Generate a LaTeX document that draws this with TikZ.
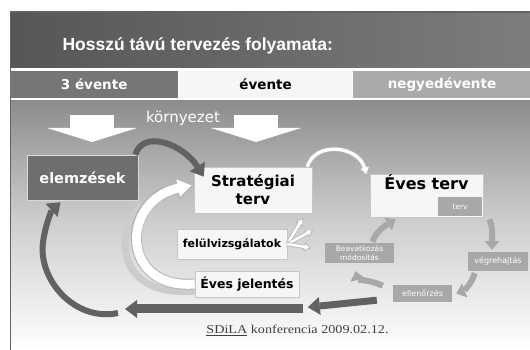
\documentclass[tikz,border=0pt]{standalone}
\usepackage{fontspec}
\usepackage{tikz}
\usetikzlibrary{arrows.meta,positioning}
\newfontfamily\boxfont{DejaVu Sans}
\newfontfamily\titlefont{Liberation Sans}
\newfontfamily\footfont[FakeStretch=1.18]{Liberation Serif}

\definecolor{banddark}{RGB}{86,86,86}
\definecolor{bandlight}{RGB}{125,125,125}
\definecolor{tabdark}{RGB}{118,118,118}
\definecolor{tabmid}{RGB}{170,170,170}
\definecolor{tablight}{RGB}{246,246,246}
\definecolor{boxdark}{RGB}{110,110,110}
\definecolor{arrowdark}{RGB}{98,98,98}
\definecolor{cyclegray}{RGB}{168,168,168}
\definecolor{bgtop}{RGB}{140,140,140}
\definecolor{bgmid}{RGB}{205,205,205}

\begin{document}
\begin{tikzpicture}[x=1pt, y=1pt,
  tab/.style={minimum height=27pt, inner sep=0pt, font=\boxfont\bfseries\fontsize{13.5}{14}\selectfont},
  bigbox/.style={draw=gray!45, line width=0.6pt, fill=tablight, inner sep=0pt, align=center, font=\boxfont\bfseries},
  darkbox/.style={draw=gray!30, line width=0.6pt, fill=boxdark, text=white, inner sep=0pt, font=\boxfont\bfseries\fontsize{14.5}{15}\selectfont},
  stepbox/.style={fill=cyclegray, text=white, inner sep=0pt, align=center, font=\boxfont\fontsize{8}{9.5}\selectfont},
  envarrow/.style={draw=white, line width=44pt, -{Triangle[length=14pt, width=90pt, line width=0pt]}},
  darrow/.style={draw=arrowdark, line width=6pt, -{Triangle[length=12pt, width=18pt, line width=0pt]}},
  carrow/.style={draw=cyclegray, line width=6pt, -{Triangle[length=9pt, width=15pt, line width=0pt]}},
  ribbon/.style={preaction={draw=gray!60, line width=11pt, shorten >=0pt,
      -{Triangle[length=17pt, width=22pt, fill=white, line width=1pt]}},
    draw=white, line width=9pt, shorten >=15pt},
  thinribbon/.style={preaction={draw=gray!60, line width=5pt, shorten >=0pt,
      -{Triangle[length=9pt, width=12pt, fill=white, line width=0.8pt]}},
    draw=white, line width=3.4pt, shorten >=7.5pt},
  fanarrow/.style={preaction={draw=gray!60, line width=4pt, shorten >=0pt,
      -{Triangle[length=7pt, width=9pt, fill=white, line width=0.7pt]}},
    draw=white, line width=2.6pt, shorten >=5.5pt}
]
\useasboundingbox (0,0) rectangle (530,350);
\fill[white] (0,0) rectangle (530,350);
\shade[top color=bgtop, bottom color=bgmid] (10,130) rectangle (530,250);
\shade[top color=bgmid, bottom color=white] (10,0) rectangle (530,130);
\shade[left color=banddark, right color=bandlight] (10,282) rectangle (530,338);
\fill[white] (10,250) rectangle (530,282);
\draw[arrowdark, line width=1.2pt] (10.6,0) -- (10.6,338) -- (530,338);

\node[tab, fill=tabdark, text=white, minimum width=168pt, anchor=south west] (threey) at (10,252) {3 évente};
\node[tab, fill=tablight, minimum width=174pt, right=0pt of threey] (yearly) {évente};
\node[tab, fill=tabmid, text=white, minimum width=178pt, right=0pt of yearly] (quarterly) {negyedévente};
\node[anchor=west, text=white, font=\titlefont\bfseries\fontsize{17.5}{18}\selectfont] (title) at (59,304) {Hosszú távú tervezés folyamata:};

\coordinate (envleft) at (92,235);
\coordinate (envright) at (256,235);
\draw[envarrow] (envleft) -- ++(0,-27);
\draw[envarrow] (envright) -- ++(0,-27);
\node[anchor=base, text=white, font=\boxfont\fontsize{15}{15}\selectfont] (env) at (183,227) {környezet};

\node[darkbox, minimum width=111pt, minimum height=45pt] (elem) at (82.5,172.5) {elemzések};
\node[bigbox, minimum width=118pt, minimum height=46pt, font=\boxfont\bfseries\fontsize{15}{18}\selectfont] (strat) at (253,160) {Stratégiai\\terv};
\node[bigbox, minimum width=110pt, minimum height=30pt, font=\boxfont\bfseries\fontsize{11}{12}\selectfont] (felul) at (232,106) {felülvizsgálatok};
\node[bigbox, minimum width=104pt, minimum height=26pt, font=\boxfont\bfseries\fontsize{12.5}{13}\selectfont] (jelentes) at (247,66) {Éves jelentés};
\node[bigbox, minimum width=113pt, text height=16pt, text depth=27pt, font=\boxfont\bfseries\fontsize{16}{16}\selectfont] (eves) at (426.5,154.5) {Éves terv};
\node[stepbox, minimum width=44pt, minimum height=19pt, anchor=south east, font=\boxfont\fontsize{7.5}{8}\selectfont] (evesplan) at ([xshift=-1pt, yshift=1pt]eves.south east) {terv};
\node[stepbox, minimum width=69pt, minimum height=20pt, font=\boxfont\fontsize{7.5}{9}\selectfont] (beav) at (359.5,97) {Beavatkozás\\módosítás};
\node[stepbox, minimum width=60pt, minimum height=19pt] (vegre) at (498,88.5) {végrehajtás};
\node[stepbox, minimum width=59pt, minimum height=17pt] (ellen) at (422.5,56.5) {ellenőrzés};
\node[anchor=base, text=black!75, font=\footfont\fontsize{12}{12}\selectfont] (footer) at (297.5,16) {\underline{SDiLA} konferencia 2009.02.12.};

\draw[gray!40, line width=7pt] ([yshift=-7pt]jelentes.west) .. controls (118,52) and (112,115) .. (142,146);
\draw[ribbon] (jelentes.west) .. controls (120,60) and (120,150) .. ([yshift=5pt]strat.west);
\draw[thinribbon] ([xshift=-5pt]strat.north east) .. controls +(8,26) and +(-8,30) .. ([shift={(-3pt,-2pt)}]eves.north west);
\foreach \tx/\ty in {303/132, 313/120, 311/102}
  \draw[fanarrow] (felul.east) -- (\tx,\ty);

\draw[darrow] ([xshift=-3pt]elem.north east) .. controls +(8,26) and +(-20,32) .. ([shift={(10pt,-10pt)}]strat.north west);
\coordinate (loopstart) at (118,37);
\draw[darrow] (loopstart) .. controls (75,28) and (38,70) .. (43,108) .. controls (46,128) and (52,140) .. ([xshift=-22pt, yshift=-2pt]elem.south);
\coordinate (reportend) at (303,41);
\draw[darrow, line width=9pt] (reportend) -- ++(-178,0);
\draw[darrow, line width=7pt] ([xshift=-16pt, yshift=2pt]ellen.south west) -- ++(-69,-7);

\draw[carrow] ([xshift=6pt, yshift=-2pt]eves.south east) .. controls +(4,-8) and +(0,10) .. ([xshift=-6pt, yshift=2pt]vegre.north);
\draw[carrow] ([xshift=7pt, yshift=-2pt]vegre.south west) .. controls +(-3,-10) and +(8,3) .. ([xshift=4pt]ellen.east);
\draw[carrow] ([xshift=-10pt, yshift=-1pt]ellen.north west) .. controls +(-10,5) and +(2,-8) .. ([xshift=-4pt, yshift=-8pt]beav.south);
\draw[carrow] ([xshift=13pt, yshift=1pt]beav.north) .. controls +(3,10) and +(-10,-6) .. ([xshift=26pt, yshift=-2pt]eves.south west);
\end{tikzpicture}
\end{document}
